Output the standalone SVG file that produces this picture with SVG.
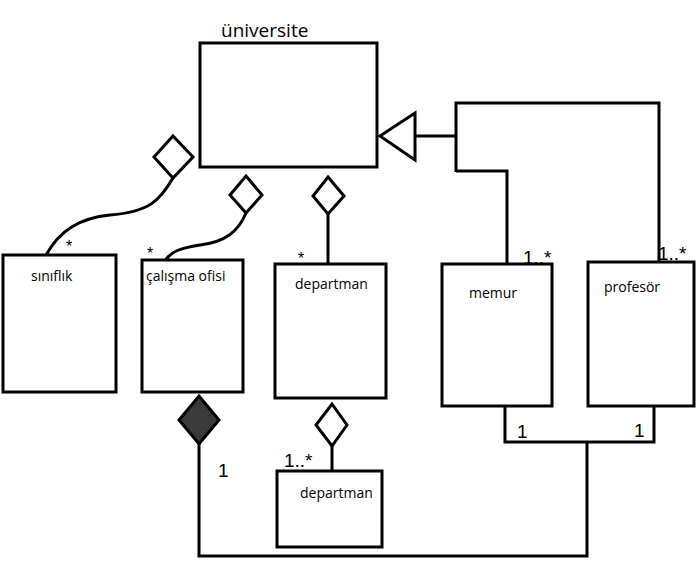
<svg xmlns="http://www.w3.org/2000/svg" width="696" height="564" viewBox="0 0 696 564">
<style>
.box{fill:#fff;stroke:#000;stroke-width:3}
.ln{fill:none;stroke:#000;stroke-width:3;stroke-linejoin:miter}
.dia{fill:#fff;stroke:#000;stroke-width:3}
.lbl{font-family:"Open Sans","Noto Sans",sans-serif;font-size:14px;fill:#000}
.title{font-family:"Open Sans","Noto Sans",sans-serif;font-size:19px;fill:#000}
.m{font-family:"Liberation Sans",Arial,sans-serif;font-size:19px;fill:#000}
.st{font-family:"Liberation Sans",Arial,sans-serif;font-size:16px;fill:#000}
</style>
<rect width="696" height="564" fill="#fff"/>
<g id="connectors">
<path class="ln" d="M173,178 C160,200 150,212 110,215 C80,218 60,230 46,255"/>
<path class="ln" d="M246,213 C238,232 225,242 200,245 C180,248 170,252 165,261"/>
<path class="ln" d="M328,214 L328,264"/>
<path class="ln" d="M332,446 L332,471"/>
<path class="ln" d="M199,444 L199,556 L587,556 L587,442"/>
<path class="ln" d="M505,406 L505,442 L654,442 L654,406"/>
<path class="ln" d="M415,136 L456,136"/>
<path class="ln" d="M456,172 L456,103 L659,103 L659,262"/>
<path class="ln" d="M456,171 L507,171 L507,264"/>
<polygon class="dia" points="173,136 193,157 173,178 154,157"/>
<polygon class="dia" points="246,176 262,195 246,213 230,195"/>
<polygon class="dia" points="328,177 344,196 328,214 313,196"/>
<polygon class="dia" points="332,404 347,425 332,446 316,425"/>
<polygon points="199,396 219,420 199,444 179,420" fill="#3a3a3a" stroke="#000" stroke-width="3"/>
<polygon class="dia" points="380,136 415,113 415,160"/>
<text class="st" x="66" y="252">*</text>
<text class="st" x="147" y="259">*</text>
<text class="st" x="298" y="264">*</text>
<text class="m" x="284" y="467">1..*</text>
<text class="m" x="218" y="477">1</text>
<text class="m" x="517" y="438">1</text>
<text class="m" x="634" y="437">1</text>
<text class="m" x="523" y="264">1..*</text>
<text class="m" x="658" y="260">1..*</text>
</g>
<g id="universite">
<rect class="box" x="200" y="43" width="177" height="124"/>
<text class="title" x="221" y="37">üniversite</text>
</g>
<g id="siniflik">
<rect class="box" x="3" y="255" width="113" height="137"/>
<text class="lbl" x="31" y="281">sınıflık</text>
</g>
<g id="calisma-ofisi">
<rect class="box" x="142" y="260" width="101" height="132"/>
<text class="lbl" x="146" y="281">çalışma ofisi</text>
</g>
<g id="departman">
<rect class="box" x="275" y="264" width="111" height="134"/>
<text class="lbl" x="295" y="289">departman</text>
</g>
<g id="memur">
<rect class="box" x="442" y="264" width="110" height="142"/>
<text class="lbl" x="469" y="298">memur</text>
</g>
<g id="profesor">
<rect class="box" x="588" y="262" width="106" height="144"/>
<text class="lbl" x="604" y="292">profesör</text>
</g>
<g id="departman2">
<rect class="box" x="277" y="471" width="105" height="76"/>
<text class="lbl" x="300" y="498">departman</text>
</g>
</svg>
